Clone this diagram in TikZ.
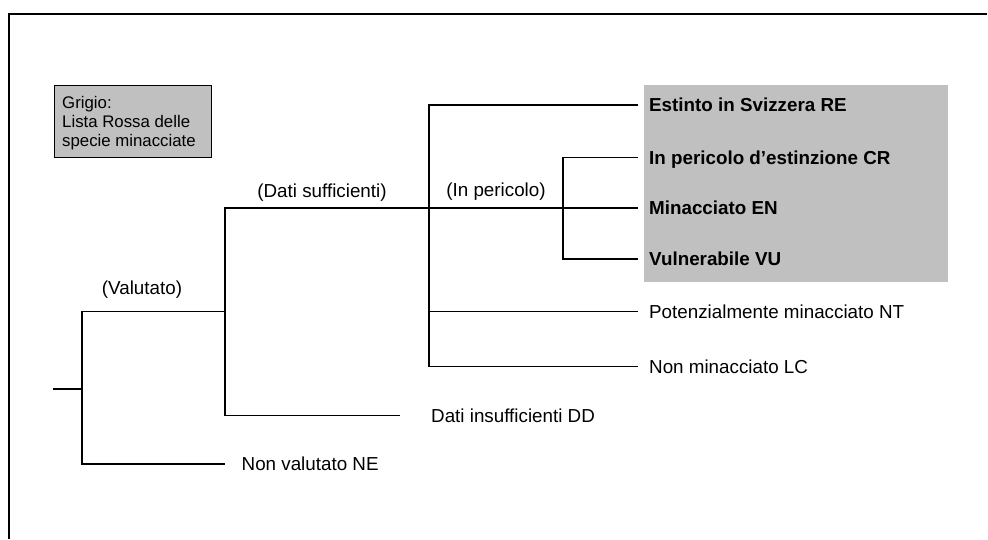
\documentclass[tikz,border=0pt]{standalone}
\usepackage{fontspec}
\setmainfont{Liberation Sans}
\definecolor{grigio}{HTML}{C0C0C0}
\begin{document}
\begin{tikzpicture}[x=1pt,y=-1pt,
  wire/.style={line width=1.5pt, line cap=rect},
  lbl/.style={font=\fontsize{18.8}{22}\selectfont, inner sep=0pt, anchor=base west},
  bld/.style={font=\fontsize{18.8}{22}\selectfont\bfseries, inner sep=0pt, anchor=base west},
  mid/.style={font=\fontsize{18.8}{22}\selectfont, inner sep=0pt, anchor=base},
  legtxt/.style={font=\fontsize{16.8}{19.2}\selectfont, inner sep=0pt, anchor=base west, align=left}]
\useasboundingbox (0,0) rectangle (988,539);
% frame
\draw[line width=1.5pt] (987,14) -- (9,14) -- (9,539);
% gray band
\fill[grigio] (644,85) rectangle (948,282);
% legend
\node[draw=black, line width=1pt, fill=grigio, minimum width=157pt, minimum height=72pt, anchor=north west, inner sep=0pt] (leg) at (54,85) {};
\node[legtxt] (leg1) at (62,108) {Grigio:};
\node[legtxt] (leg2) at (62,127.5) {Lista Rossa delle};
\node[legtxt] (leg3) at (62,146.5) {specie minacciate};
% coordinates
\coordinate (root) at (54,389);
\coordinate (j1) at (82,389);
\coordinate (j1t) at (82,311.7);
\coordinate (j1b) at (82,464);
\coordinate (neend) at (224,464);
\coordinate (j2) at (225,311.7);
\coordinate (j2t) at (225,208);
\coordinate (j2b) at (225,415.7);
\coordinate (ddend) at (399,415.7);
\coordinate (j3) at (429,208);
\coordinate (j3t) at (429,105);
\coordinate (j3a) at (429,311.7);
\coordinate (j3b) at (429,366.7);
\coordinate (j4) at (563,208);
\coordinate (j4t) at (563,157.7);
\coordinate (j4b) at (563,259);
\coordinate (reend) at (637,105);
\coordinate (crend) at (637,157.7);
\coordinate (enend) at (637,208);
\coordinate (vuend) at (637,259);
\coordinate (ntend) at (637,311.7);
\coordinate (lcend) at (637,366.7);
% wires
\draw[wire] (root) -- (j1);
\draw[wire] (j1t) -- (j1b);
\draw[wire] (j1t) -- (j2);
\draw[wire] (j1b) -- (neend);
\draw[wire] (j2t) -- (j2b);
\draw[wire] (j2t) -- (j3);
\draw[wire] (j2b) -- (ddend);
\draw[wire] (j3t) -- (j3b);
\draw[wire] (j3t) -- (reend);
\draw[wire] (j3) -- (enend);
\draw[wire] (j3a) -- (ntend);
\draw[wire] (j3b) -- (lcend);
\draw[wire] (j4t) -- (j4b);
\draw[wire] (j4t) -- (crend);
\draw[wire] (j4b) -- (vuend);
% branch labels
\node[mid] (val) at (142,294) {(Valutato)};
\node[mid] (suf) at (322,197) {(Dati sufficienti)};
\node[mid] (per) at (496,196.5) {(In pericolo)};
% leaf labels
\node[bld] (re) at (649,111.7) {Estinto in Svizzera RE};
\node[bld] (cr) at (649,164.4) {In pericolo d’estinzione CR};
\node[bld] (en) at (649,214.7) {Minacciato EN};
\node[bld] (vu) at (649,265.7) {Vulnerabile VU};
\node[lbl] (nt) at (649,318.4) {Potenzialmente minacciato NT};
\node[lbl] (lc) at (649,373.4) {Non minacciato LC};
\node[lbl] (dd) at (431,422.4) {Dati insufficienti DD};
\node[lbl] (ne) at (241.5,470.7) {Non valutato NE};
\end{tikzpicture}
\end{document}
